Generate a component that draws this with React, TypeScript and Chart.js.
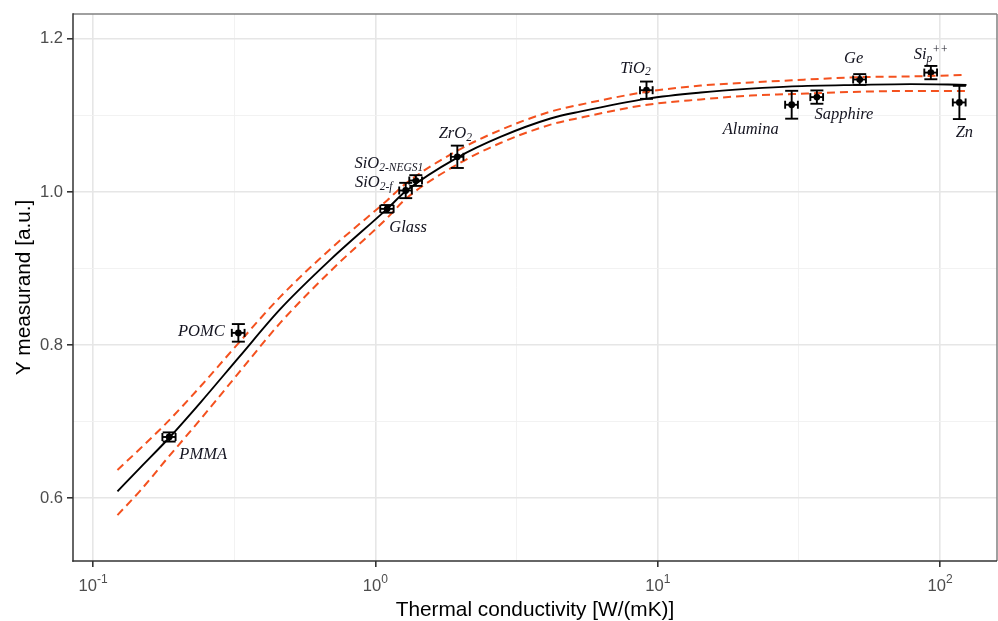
import React, { useEffect, useRef } from 'react';
import { Chart, registerables } from 'chart.js';
Chart.register(...registerables);

// ---------- data ----------
const materials = ['PMMA', 'POMC', 'Glass', 'SiO2-f', 'SiO2-NEGS1', 'ZrO2', 'TiO2', 'Alumina', 'Sapphire', 'Ge', 'Sip++', 'Zn'];
const kVals = [0.186, 0.327, 1.10, 1.28, 1.39, 1.95, 9.12, 29.8, 36.6, 51.9, 92.7, 117];
const kErr = [0.010, 0.017, 0.06, 0.066, 0.072, 0.10, 0.47, 1.55, 1.9, 2.7, 4.8, 6.1];
const yVals = [0.680, 0.816, 0.978, 1.002, 1.015, 1.046, 1.133, 1.114, 1.124, 1.147, 1.156, 1.117];
const yErr = [0.006, 0.0115, 0.005, 0.010, 0.007, 0.0146, 0.0113, 0.0182, 0.0087, 0.007, 0.0087, 0.0217];

const fitK = [0.122, 0.147, 0.185, 0.24, 0.33, 0.46, 0.69, 1.1, 1.28, 1.95, 2.77, 4.17, 5.3, 9.17, 14.2, 21.3, 29.9, 51.9, 78.6, 124];
const fitY = [0.609, 0.640, 0.678, 0.725, 0.785, 0.847, 0.911, 0.978, 1.001, 1.045, 1.072, 1.096, 1.105, 1.122, 1.130, 1.135, 1.138, 1.140, 1.141, 1.140];
const upperY = [0.637, 0.665, 0.701, 0.746, 0.804, 0.863, 0.925, 0.989, 1.011, 1.054, 1.081, 1.105, 1.114, 1.131, 1.139, 1.143, 1.146, 1.150, 1.151, 1.153];
const lowerY = [0.578, 0.610, 0.654, 0.703, 0.765, 0.829, 0.896, 0.966, 0.991, 1.036, 1.064, 1.088, 1.097, 1.114, 1.121, 1.126, 1.128, 1.131, 1.132, 1.132];

const xTickValues = [0.1, 0.3162, 1, 3.162, 10, 31.62, 100];
const xTickBase = '10';
const xTickExponents: Record<string, string> = { '0.1': '-1', '1': '0', '10': '1', '100': '2' };
const yTickValues = [0.6, 0.7, 0.8, 0.9, 1.0, 1.1, 1.2];
const yMajor = [0.6, 0.8, 1.0, 1.2];

// label text pieces: n = normal, sub = subscript, sup = superscript
const labelParts: [string, string][][] = [
  [['PMMA', 'n']],
  [['POMC', 'n']],
  [['Glass', 'n']],
  [['SiO', 'n'], ['2-f', 'sub']],
  [['SiO', 'n'], ['2-NEGS1', 'sub']],
  [['ZrO', 'n'], ['2', 'sub']],
  [['TiO', 'n'], ['2', 'sub']],
  [['Alumina', 'n']],
  [['Sapphire', 'n']],
  [['Ge', 'n']],
  [['Si', 'n'], ['p', 'sub'], ['++', 'sup']],
  [['Zn', 'n']],
];
// label centre offsets from the point, px
const labelOffsets: [number, number][] = [
  [34, 18], [-37, -1], [21, 19], [-32, -8], [-27, -17], [-2, -23],
  [-11, -22], [-41, 25], [27, 18], [-6, -21], [0, -18], [5, 30],
];

const RED = '#f4511e';
const SANS = '"Liberation Sans", Arial, sans-serif';

const isMajorY = (v: number) => yMajor.some((m) => Math.abs(m - v) < 1e-6);
const xExp = (v: number) => {
  const key = String(Math.round(v * 1000) / 1000);
  return xTickExponents[key];
};

const overlayPlugin = {
  id: 'overlay',
  afterDatasetsDraw(chart: any) {
    const { ctx, scales, chartArea } = chart;
    const xs = scales.x;
    const ys = scales.y;
    ctx.save();
    // error bars
    ctx.strokeStyle = '#000';
    ctx.lineWidth = 1.9;
    const seg = (a: number, b: number, c: number, d: number) => {
      ctx.beginPath();
      ctx.moveTo(a, b);
      ctx.lineTo(c, d);
      ctx.stroke();
    };
    const capW = 6.5;
    const capH = 4;
    kVals.forEach((k, i) => {
      const px = xs.getPixelForValue(k);
      const py = ys.getPixelForValue(yVals[i]);
      const yt = ys.getPixelForValue(yVals[i] + yErr[i]);
      const yb = ys.getPixelForValue(yVals[i] - yErr[i]);
      const xl = xs.getPixelForValue(k - kErr[i]);
      const xr = xs.getPixelForValue(k + kErr[i]);
      seg(px, yt, px, yb);
      seg(px - capW, yt, px + capW, yt);
      seg(px - capW, yb, px + capW, yb);
      seg(xl, py, xr, py);
      seg(xl, py - capH, xl, py + capH);
      seg(xr, py - capH, xr, py + capH);
    });
    // labels
    ctx.fillStyle = '#141420';
    ctx.textBaseline = 'middle';
    ctx.textAlign = 'left';
    const fontFor = (kind: string) =>
      kind === 'n' ? 'italic 16.5px "Liberation Serif", serif' : 'italic 11.5px "Liberation Serif", serif';
    labelParts.forEach((parts, i) => {
      const px = xs.getPixelForValue(kVals[i]);
      const py = ys.getPixelForValue(yVals[i]);
      let total = 0;
      parts.forEach(([t, kind]) => {
        ctx.font = fontFor(kind);
        total += ctx.measureText(t).width;
      });
      let cx = px + labelOffsets[i][0] - total / 2;
      const cy = py + labelOffsets[i][1];
      parts.forEach(([t, kind]) => {
        ctx.font = fontFor(kind);
        const dy = kind === 'sub' ? 4 : kind === 'sup' ? -5 : 0;
        ctx.fillText(t, cx, cy + dy);
        cx += ctx.measureText(t).width;
      });
    });
    // x tick labels with superscript exponents
    ctx.fillStyle = '#4d4d4d';
    xTickValues.forEach((v) => {
      const e = xExp(v);
      if (e === undefined) return;
      const px = xs.getPixelForValue(v);
      ctx.font = `16.6px ${SANS}`;
      const wb = ctx.measureText(xTickBase).width;
      ctx.font = `12px ${SANS}`;
      const we = ctx.measureText(e).width;
      const x0 = px - (wb + we) / 2;
      ctx.font = `16.6px ${SANS}`;
      ctx.fillText(xTickBase, x0, 586);
      ctx.font = `12px ${SANS}`;
      ctx.fillText(e, x0 + wb, 580);
    });
    // panel border
    ctx.lineWidth = 1.5;
    ctx.strokeStyle = '#808080';
    seg(chartArea.left, chartArea.top, chartArea.right, chartArea.top);
    seg(chartArea.right, chartArea.top, chartArea.right, chartArea.bottom);
    ctx.strokeStyle = '#333';
    seg(chartArea.left, chartArea.top - 0.75, chartArea.left, chartArea.bottom + 0.75);
    seg(chartArea.left - 0.75, chartArea.bottom, chartArea.right, chartArea.bottom);
    ctx.restore();
  },
};

export default function App() {
  const ref = useRef<HTMLCanvasElement>(null);
  useEffect(() => {
    document.body.style.margin = '0';
    const canvas = ref.current;
    if (!canvas) return;
    const chart = new Chart(canvas, {
      type: 'line',
      data: {
        datasets: [
          {
            label: 'fit',
            data: fitK.map((k, i) => ({ x: k, y: fitY[i] })),
            borderColor: '#000',
            borderWidth: 1.9,
            pointRadius: 0,
            cubicInterpolationMode: 'monotone',
            fill: false,
          },
          {
            label: 'upper',
            data: fitK.map((k, i) => ({ x: k, y: upperY[i] })),
            borderColor: RED,
            borderWidth: 2,
            borderDash: [8, 5],
            pointRadius: 0,
            cubicInterpolationMode: 'monotone',
            fill: false,
          },
          {
            label: 'lower',
            data: fitK.map((k, i) => ({ x: k, y: lowerY[i] })),
            borderColor: RED,
            borderWidth: 2,
            borderDash: [8, 5],
            pointRadius: 0,
            cubicInterpolationMode: 'monotone',
            fill: false,
          },
          {
            type: 'scatter',
            label: 'measured',
            data: kVals.map((k, i) => ({ x: k, y: yVals[i] })),
            backgroundColor: '#000',
            borderWidth: 0,
            pointRadius: 3.4,
            showLine: false,
          } as any,
        ],
      },
      options: {
        responsive: false,
        devicePixelRatio: 1,
        animation: false,
        layout: { autoPadding: false, padding: { left: 0, top: 12, right: 1, bottom: 0 } },
        plugins: { legend: { display: false }, tooltip: { enabled: false } },
        scales: {
          x: {
            type: 'logarithmic',
            position: 'bottom',
            min: 0.0849,
            max: 159,
            afterBuildTicks: (s: any) => {
              s.ticks = xTickValues.map((v) => ({ value: v }));
            },
            afterFit: (s: any) => {
              s.height = 60;
              s.paddingLeft = 0;
              s.paddingRight = 0;
            },
            ticks: {
              autoSkip: false,
              maxRotation: 0,
              color: '#4d4d4d',
              padding: 0,
              font: { family: SANS, size: 16.6 },
              callback: () => '',
            },
            grid: {
              color: (c: any) => (xExp(c.tick.value) !== undefined ? '#e6e6e6' : '#f1f1f1'),
              lineWidth: (c: any) => (xExp(c.tick.value) !== undefined ? 1.6 : 0.9),
              tickColor: (c: any) => (xExp(c.tick.value) !== undefined ? '#333' : 'rgba(0,0,0,0)'),
              tickLength: 6,
            },
            border: { display: false },
            title: {
              display: true,
              text: 'Thermal conductivity [W/(mK)]',
              color: '#000',
              font: { family: SANS, size: 20.8, lineHeight: 1 },
              padding: { top: 0, bottom: 0 },
            },
          },
          y: {
            type: 'linear',
            min: 0.518,
            max: 1.2326,
            afterBuildTicks: (s: any) => {
              s.ticks = yTickValues.map((v) => ({ value: v }));
            },
            afterFit: (s: any) => {
              s.width = 73;
            },
            ticks: {
              color: '#4d4d4d',
              padding: 4,
              font: { family: SANS, size: 16.6 },
              callback: (v: any) => (isMajorY(Number(v)) ? Number(v).toFixed(1) : ''),
            },
            grid: {
              color: (c: any) => (isMajorY(c.tick.value) ? '#e6e6e6' : '#f1f1f1'),
              lineWidth: (c: any) => (isMajorY(c.tick.value) ? 1.6 : 0.9),
              tickColor: (c: any) => (isMajorY(c.tick.value) ? '#333' : 'rgba(0,0,0,0)'),
              tickLength: 6,
            },
            border: { display: false },
            title: {
              display: true,
              text: 'Y measurand [a.u.]',
              color: '#000',
              font: { family: SANS, size: 20.8, lineHeight: 1 },
              padding: { top: 14, bottom: 0 },
            },
          },
        },
      } as any,
      plugins: [overlayPlugin],
    });
    return () => chart.destroy();
  }, []);
  return (
    <div style={{ position: 'absolute', left: 0, top: 0, width: 998, height: 621, background: '#fff' }}>
      <canvas ref={ref} width={998} height={621} style={{ width: 998, height: 621, display: 'block' }} />
    </div>
  );
}
